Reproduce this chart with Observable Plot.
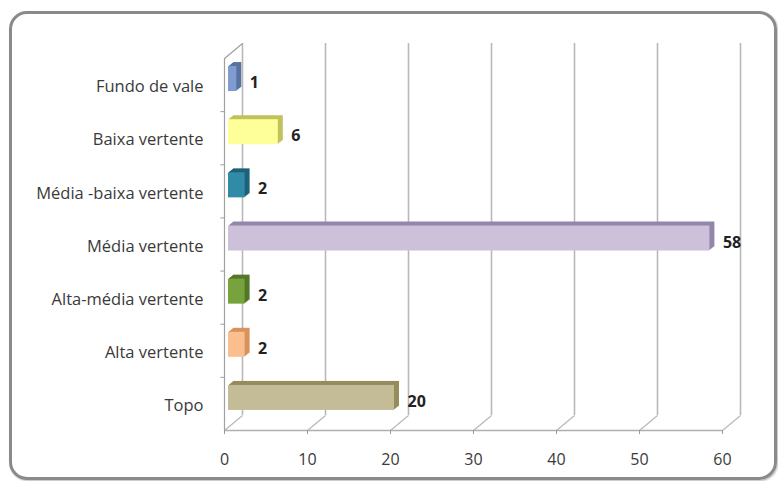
<!DOCTYPE html>
<html>
<head>
<meta charset="utf-8">
<script src="https://cdn.jsdelivr.net/npm/d3@7"></script>
<script src="https://cdn.jsdelivr.net/npm/@observablehq/plot@0.6"></script>
<style>
  html, body { margin: 0; padding: 0; background: #fff; }
  #wrap { position: relative; width: 778px; height: 481px; overflow: hidden; }
  #frame { position: absolute; left: 9px; top: 11px; width: 762px; height: 463px;
           border: 3px solid #8a8a8a; border-radius: 18px; box-shadow: 1px 1px 2px #bbb; }
  #chart { position: absolute; left: 0; top: 0; }
</style>
</head>
<body>
<div id="wrap"><div id="frame"></div><div id="chart"></div></div>
<script>
// Data (top to bottom as shown)
const categories = ["Fundo de vale", "Baixa vertente", "Média -baixa vertente", "Média vertente", "Alta-média vertente", "Alta vertente", "Topo"];
const values = [1, 6, 2, 58, 2, 2, 20];
const frontColors = ["#7f9bd0", "#ffff99", "#2f8ba6", "#ccc0da", "#77a23c", "#fbbf8f", "#c4bc96"];
const sideColors  = ["#56739f", "#c2c25e", "#1e6279", "#9486ab", "#54772a", "#d8925c", "#958c5c"];
const xTicks = [0, 10, 20, 30, 40, 50, 60];

const W = 778, H = 481;
const mL = 224, mR = 56, mT = 58, mB = 51;
const n = categories.length;
const pxX = (W - mL - mR) / 60;
const pxY = (H - mT - mB) / n;
// back-wall depth offset in pixels -> data units
const depthDX = 18, depthDY = 15;
const ddx = depthDX / pxX, ddy = depthDY / pxY;
const barHalf = 12.5 / pxY;

const rows = categories.map((c, i) => ({
  cat: c, value: values[i], pos: n - 1 - i + 0.5,
  front: frontColors[i], side: sideColors[i]
}));
const bounds = d3.range(1, n);

const extrude = [5, 4, 3, 2, 1].map(k => Plot.rectX(rows, {
  x1: 0, x2: "value", y1: d => d.pos - barHalf, y2: d => d.pos + barHalf,
  fill: "side", dx: 4 + k, dy: -6 - k * 0.8
}));

const chart = Plot.plot({
  width: W, height: H,
  marginLeft: mL, marginRight: mR, marginTop: mT, marginBottom: mB,
  x: { domain: [0, 60], axis: null, label: null },
  y: { domain: [0, n], axis: null, label: null },
  style: { fontFamily: "'Open Sans', sans-serif", background: "transparent", overflow: "visible" },
  marks: [
    // back wall gridlines
    Plot.ruleX(xTicks, { x: d => d, y1: 0, y2: n, dx: depthDX, dy: -depthDY, stroke: "#b8b8b8", strokeWidth: 1.6 }),
    // floor connectors
    Plot.link(xTicks, { x1: d => d, y1: 0, x2: d => d + ddx, y2: ddy, stroke: "#b8b8b8", strokeWidth: 1.2 }),
    // left wall front edge and top connector
    Plot.ruleX([0], { y1: 0, y2: n, stroke: "#a0a0a0", strokeWidth: 1.2 }),
    Plot.link([0], { x1: 0, y1: n, x2: ddx, y2: n + ddy, stroke: "#a0a0a0", strokeWidth: 1.2 }),
    // floor front edge
    Plot.ruleY([0], { x1: 0, x2: 60, stroke: "#b0b0b0", strokeWidth: 1.4 }),
    // left wall category ticks
    Plot.link(bounds, { x1: -0.5, x2: 0, y1: d => d, y2: d => d, stroke: "#a0a0a0" }),
    // bars (3D extrusion then front face)
    ...extrude,
    Plot.rectX(rows, {
      x1: 0, x2: "value", y1: d => d.pos - barHalf, y2: d => d.pos + barHalf,
      fill: "front", dx: 4, dy: -6
    }),
    // value labels
    Plot.text(rows, { x: "value", y: "pos", text: d => String(d.value), dx: 17, dy: -2,
      textAnchor: "start", fontWeight: "bold", fontSize: 16, fill: "#222" }),
    // category labels
    Plot.text(rows, { x: 0, y: "pos", text: "cat", dx: -21, dy: 2,
      textAnchor: "end", fontSize: 16.5, fill: "#3a3a3a" }),
    // x axis
    Plot.axisX(xTicks, { anchor: "bottom", tickSize: 4, tickPadding: 19, fontSize: 16,
      stroke: "#999", fill: "#3a3a3a", label: null, tickFormat: d => String(d) })
  ]
});
document.getElementById("chart").appendChild(chart);
</script>
</body>
</html>
